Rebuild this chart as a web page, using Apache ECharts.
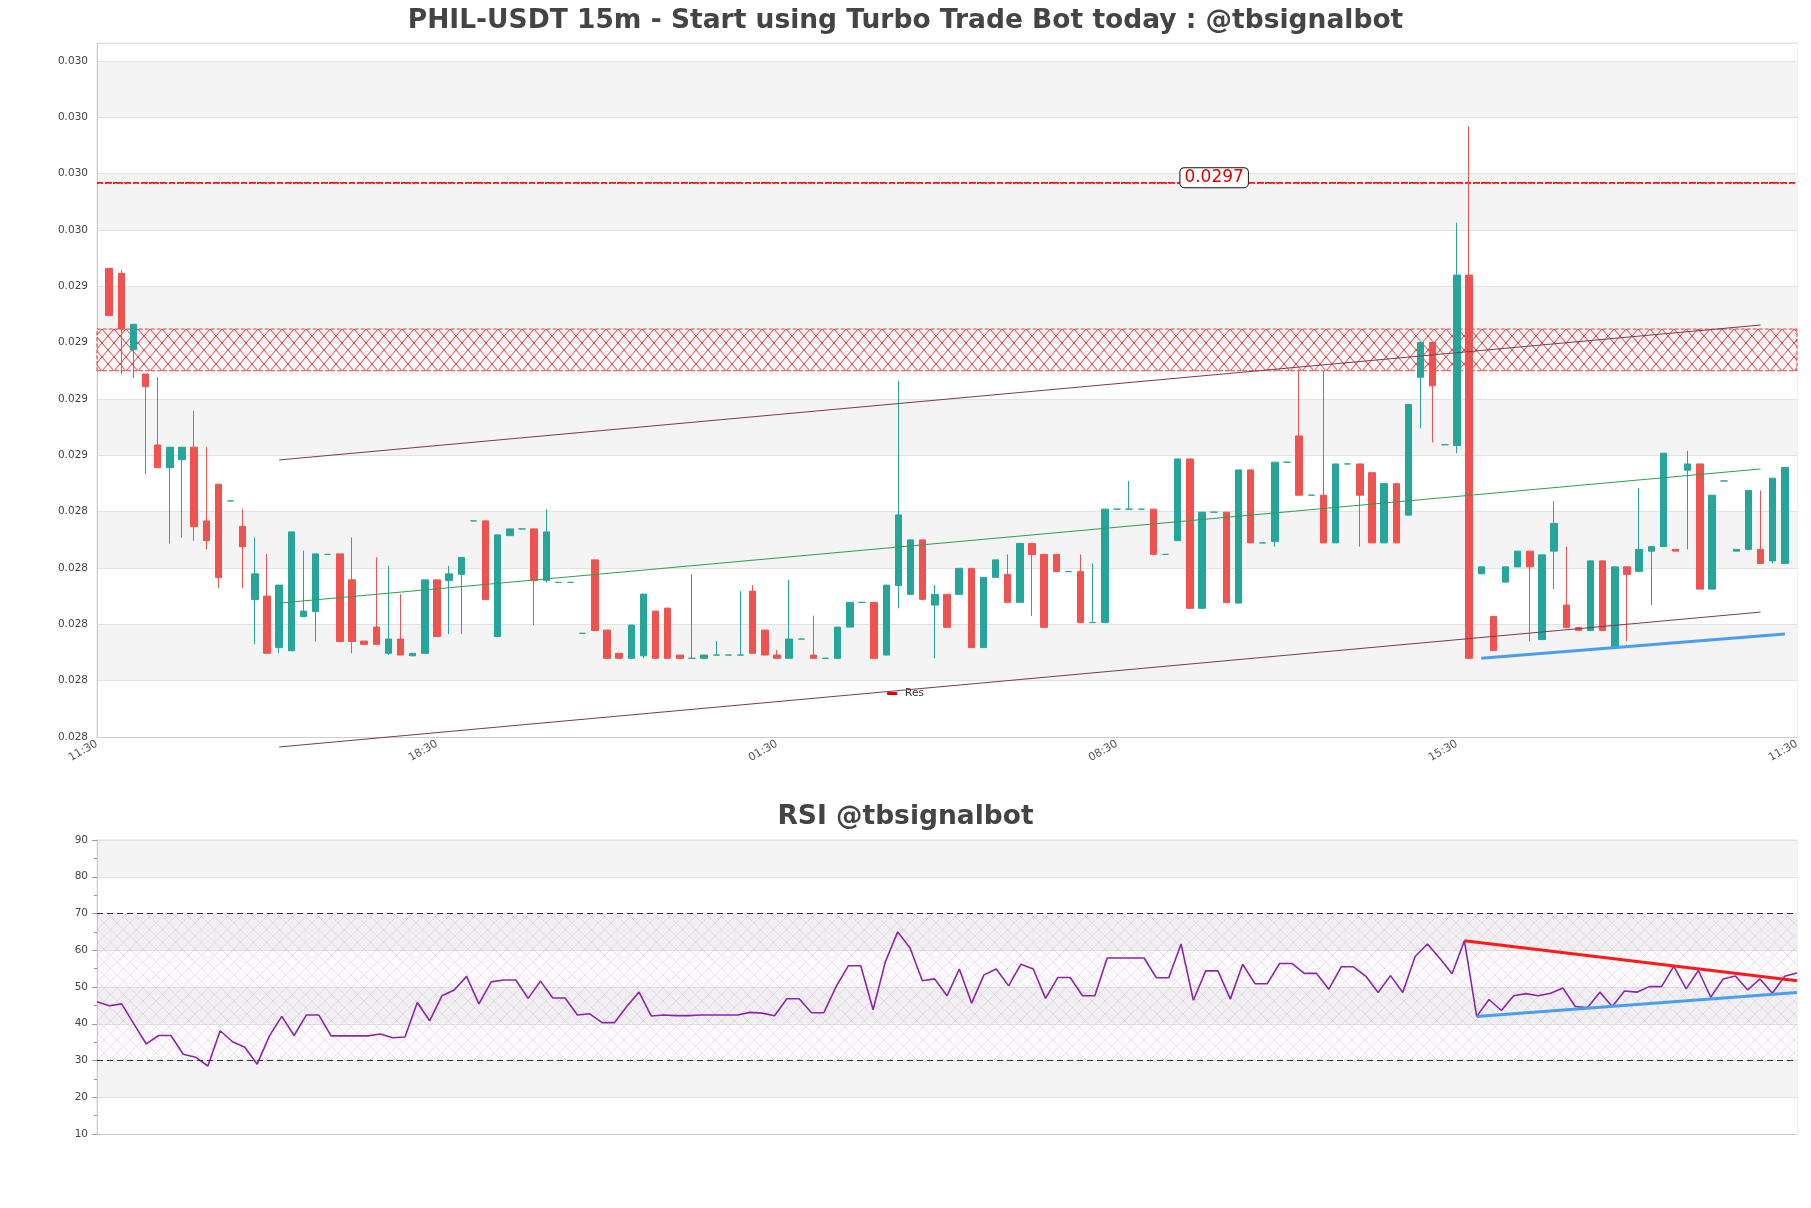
<!DOCTYPE html>
<html>
<head>
<meta charset="utf-8">
<script src="https://cdn.jsdelivr.net/npm/echarts@6/dist/echarts.min.js"></script>
<style>
html,body{margin:0;padding:0;background:#ffffff;}
#chart{width:1811px;height:1208px;}
</style>
</head>
<body>
<div id="chart"></div>
<script>
// ---------------- data ----------------
const xTickLabels = ['11:30', '18:30', '01:30', '08:30', '15:30', '11:30'];
const xTickEvery = 28;

const opens = [
0.029387,0.029367,0.029061,0.028964,0.028680,0.028589,0.028621,0.028671,0.028376,0.028523,
0.028456,0.028354,0.028061,0.028075,0.027869,0.027856,0.027993,0.028013,0.028242,0.028244,
0.028140,0.027895,0.027951,0.027846,0.027903,0.027836,0.027846,0.028140,0.028137,0.028162,
0.028376,0.028376,0.027913,0.028317,0.028344,0.028344,0.028137,0.028130,0.028130,0.027926,
0.028220,0.027939,0.027846,0.027826,0.027836,0.028015,0.028027,0.027839,0.027826,0.027826,
0.027839,0.027839,0.027839,0.028095,0.027939,0.027839,0.027826,0.027903,0.027839,0.027826,
0.027826,0.027951,0.028050,0.028050,0.027839,0.028117,0.028082,0.028300,0.028039,0.028082,
0.028082,0.028186,0.027869,0.028150,0.028162,0.028050,0.028286,0.028242,0.028242,0.028173,
0.028173,0.027969,0.027969,0.028423,0.028423,0.028423,0.028423,0.028242,0.028297,0.028624,
0.028026,0.028411,0.028411,0.028047,0.028580,0.028288,0.028294,0.028611,0.028716,0.028479,
0.028479,0.028288,0.028604,0.028604,0.028569,0.028288,0.028525,0.028399,0.028951,0.029090,
0.028681,0.028678,0.029360,0.028164,0.027993,0.028131,0.028192,0.028255,0.027901,0.028255,
0.028039,0.027949,0.027937,0.028216,0.027869,0.028192,0.028174,0.028255,0.028273,0.028262,
0.028579,0.028604,0.028103,0.028536,0.028255,0.028262,0.028262,0.028216,0.028206
];
const closes = [
0.029198,0.029144,0.029163,0.028913,0.028589,0.028671,0.028671,0.028353,0.028297,0.028149,
0.028456,0.028273,0.028164,0.027846,0.028119,0.028332,0.028015,0.028244,0.028242,0.027893,
0.027893,0.027882,0.027882,0.027903,0.027839,0.027846,0.028140,0.027913,0.028164,0.028230,
0.028376,0.028061,0.028320,0.028344,0.028344,0.028137,0.028332,0.028130,0.028130,0.027926,
0.027937,0.027826,0.027826,0.027959,0.028083,0.027826,0.027826,0.027826,0.027826,0.027839,
0.027839,0.027839,0.027839,0.027846,0.027839,0.027826,0.027903,0.027903,0.027826,0.027826,
0.027951,0.028050,0.028050,0.027826,0.028119,0.028400,0.028300,0.028062,0.028082,0.027950,
0.028186,0.027869,0.028150,0.028220,0.028050,0.028286,0.028242,0.027950,0.028173,0.028173,
0.027969,0.027969,0.028423,0.028423,0.028423,0.028423,0.028242,0.028242,0.028624,0.028026,
0.028411,0.028411,0.028049,0.028580,0.028288,0.028288,0.028611,0.028611,0.028479,0.028479,
0.028288,0.028604,0.028604,0.028479,0.028288,0.028525,0.028288,0.028842,0.029090,0.028917,
0.028681,0.029360,0.027826,0.028192,0.027857,0.028192,0.028255,0.028192,0.028240,0.028366,
0.027949,0.027937,0.028216,0.027937,0.028192,0.028162,0.028262,0.028273,0.028647,0.028255,
0.028604,0.028103,0.028479,0.028536,0.028262,0.028498,0.028206,0.028547,0.028590
];
const lows = [
0.029198,0.028963,0.028949,0.028564,0.028589,0.028285,0.028309,0.028297,0.028261,0.028106,
0.028456,0.028106,0.027882,0.027846,0.027846,0.027856,0.027993,0.027893,0.028242,0.027893,
0.027846,0.027882,0.027882,0.027839,0.027839,0.027836,0.027846,0.027913,0.027923,0.027923,
0.028376,0.028061,0.027913,0.028317,0.028344,0.027959,0.028129,0.028130,0.028130,0.027926,
0.027937,0.027826,0.027826,0.027826,0.027826,0.027826,0.027826,0.027826,0.027826,0.027826,
0.027839,0.027839,0.027839,0.027846,0.027839,0.027826,0.027826,0.027903,0.027826,0.027826,
0.027826,0.027951,0.028050,0.027826,0.027839,0.028026,0.028082,0.028062,0.027826,0.027950,
0.028082,0.027869,0.027869,0.028150,0.028050,0.028050,0.027995,0.027950,0.028173,0.028173,
0.027969,0.027969,0.027969,0.028423,0.028423,0.028423,0.028242,0.028242,0.028297,0.028026,
0.028026,0.028411,0.028049,0.028047,0.028288,0.028288,0.028273,0.028611,0.028479,0.028479,
0.028288,0.028288,0.028604,0.028273,0.028288,0.028288,0.028288,0.028399,0.028746,0.028690,
0.028681,0.028647,0.027826,0.028164,0.027857,0.028131,0.028192,0.027894,0.027901,0.028103,
0.027949,0.027937,0.027937,0.027937,0.027869,0.027894,0.028174,0.028039,0.028273,0.028255,
0.028262,0.028103,0.028103,0.028536,0.028255,0.028262,0.028206,0.028206,0.028206
];
const highs = [
0.029387,0.029380,0.029163,0.028964,0.028951,0.028671,0.028671,0.028817,0.028671,0.028523,
0.028456,0.028423,0.028310,0.028244,0.028119,0.028332,0.028257,0.028244,0.028242,0.028244,
0.028310,0.027895,0.028230,0.028196,0.028083,0.027846,0.028140,0.028140,0.028196,0.028230,
0.028376,0.028376,0.028320,0.028344,0.028344,0.028344,0.028423,0.028130,0.028130,0.027926,
0.028220,0.027939,0.027846,0.027959,0.028083,0.028015,0.028027,0.027839,0.028162,0.027839,
0.027895,0.027839,0.028095,0.028119,0.027939,0.027859,0.028140,0.027903,0.027997,0.027826,
0.027951,0.028050,0.028050,0.028050,0.028119,0.028937,0.028300,0.028300,0.028119,0.028082,
0.028186,0.028186,0.028150,0.028220,0.028242,0.028286,0.028286,0.028242,0.028242,0.028173,
0.028242,0.028206,0.028423,0.028423,0.028536,0.028423,0.028423,0.028242,0.028624,0.028624,
0.028411,0.028411,0.028411,0.028580,0.028580,0.028288,0.028611,0.028611,0.028983,0.028479,
0.028974,0.028604,0.028604,0.028604,0.028569,0.028525,0.028525,0.028842,0.029090,0.029090,
0.028681,0.029570,0.029956,0.028192,0.027993,0.028192,0.028255,0.028255,0.028240,0.028455,
0.028273,0.027949,0.028216,0.028216,0.028192,0.028192,0.028508,0.028273,0.028647,0.028262,
0.028657,0.028604,0.028479,0.028536,0.028262,0.028498,0.028498,0.028547,0.028590
];

const rsiValues = [
46.0,44.9,45.4,39.9,34.5,36.8,36.8,31.7,30.9,28.5,
38.1,35.1,33.6,29.0,36.7,42.0,36.8,42.4,42.4,36.7,
36.7,36.7,36.7,37.2,36.2,36.4,45.8,40.8,47.6,49.2,
52.9,45.4,51.4,51.9,51.9,46.9,51.6,47.0,47.0,42.4,
42.7,40.3,40.3,44.7,48.6,42.1,42.4,42.2,42.2,42.4,
42.4,42.4,42.4,43.1,42.9,42.2,46.8,46.8,43.0,43.0,
50.1,55.8,55.8,43.8,56.9,65.0,60.6,51.7,52.2,47.6,
54.9,45.6,53.3,54.9,50.3,56.2,54.9,46.9,52.6,52.6,
47.6,47.6,57.9,57.9,57.9,57.9,52.5,52.5,61.7,46.4,
54.4,54.4,46.7,56.2,50.9,50.9,56.4,56.4,53.7,53.7,
49.4,55.5,55.5,52.9,48.5,53.1,48.5,58.3,61.7,57.8,
53.6,62.6,42.0,46.6,43.6,47.6,48.2,47.6,48.3,49.7,
44.7,44.4,48.6,44.7,48.9,48.6,50.1,50.1,55.6,49.5,
54.5,47.2,52.2,53.0,49.2,52.2,48.3,52.9,53.8
];

// price axis scale (ticks start at min)
const priceStep = 0.0002255;
const priceMin = 0.027511;   // 122 * priceStep
const priceMax = 0.030289;

// levels & trend lines (category index, price)
const resLevel = 0.029730;
const resLabelIndex = 92;
const resZone = [0.028977, 0.029144];
const channelUpper = [[15, 0.028620], [137, 0.029160]];
const channelMid   = [[15, 0.028047], [137, 0.028584]];
const channelLower = [[15, 0.027471], [137, 0.028011]];
const supportLine  = [[114, 0.027826], [139, 0.027923]];

// RSI levels & trend lines (rsi index, value)
const rsiUpperLevel = 70;
const rsiLowerLevel = 30;
const rsiResTrend = [[111, 62.6], [138, 51.7]];
const rsiSupTrend = [[112, 42.0], [138, 48.5]];

// ---------------- build ----------------
const nCandles = opens.length;
const nCats = nCandles + 2;
const categories = [];
for (let i = 0; i < nCats; i++) {
  categories.push(i % xTickEvery === 0 ? (xTickLabels[i / xTickEvery] || '') : '');
}
const candleData = [['-', '-', '-', '-']];
for (let i = 0; i < nCandles; i++) candleData.push([opens[i], closes[i], lows[i], highs[i]]);
candleData.push(['-', '-', '-', '-']);
const rsiCats = rsiValues.map((_, i) => String(i));

function hatch(w, h, color, lw, bg) {
  const c = document.createElement('canvas');
  c.width = w; c.height = h;
  const g = c.getContext('2d');
  if (bg) { g.fillStyle = bg; g.fillRect(0, 0, w, h); }
  g.strokeStyle = color; g.lineWidth = lw;
  g.beginPath();
  g.moveTo(0, 0); g.lineTo(w, h);
  g.moveTo(w, 0); g.lineTo(0, h);
  g.stroke();
  return c;
}
const redHatch = hatch(12, 14, 'rgba(225,30,30,0.95)', 0.9, 'rgba(255,235,235,0.35)');
const purpleHatch = hatch(13, 13, 'rgba(150,120,170,0.22)', 0.8, 'rgba(200,170,220,0.06)');

const FONT = 'DejaVu Sans';
const UP = '#26a69a', DOWN = '#ef5350';

const chart = echarts.init(document.getElementById('chart'), null, {renderer: 'canvas'});
chart.setOption({
  animation: false,
  backgroundColor: '#ffffff',
  textStyle: {fontFamily: FONT},
  title: [
    {text: 'PHIL-USDT 15m - Start using Turbo Trade Bot today : @tbsignalbot', left: 'center', top: 3,
     textStyle: {fontFamily: FONT, fontSize: 26.5, fontWeight: 'bold', color: '#444'}},
    {text: 'RSI @tbsignalbot', left: 'center', top: 799,
     textStyle: {fontFamily: FONT, fontSize: 26.5, fontWeight: 'bold', color: '#444'}}
  ],
  legend: {
    data: ['Res'], left: 'center', top: 686, icon: 'rect', itemWidth: 10, itemHeight: 3,
    backgroundColor: '#ffffff', padding: [2, 4], selectedMode: false,
    textStyle: {fontFamily: FONT, fontSize: 10.5, color: '#333', padding: [0, 0, 0, 3]}
  },
  grid: [
    {left: 97, top: 43, width: 1700, height: 694, show: true, borderColor: '#e2e2e2', borderWidth: 1},
    {left: 97, top: 840, width: 1700, height: 294, show: true, borderColor: '#e2e2e2', borderWidth: 1}
  ],
  xAxis: [
    {type: 'category', gridIndex: 0, data: categories, boundaryGap: false,
     axisLine: {lineStyle: {color: '#cccccc'}}, axisTick: {show: false},
     axisLabel: {interval: xTickEvery - 1, rotate: 30, fontSize: 11, color: '#555', margin: 6, fontFamily: FONT},
     splitLine: {show: false}},
    {type: 'category', gridIndex: 1, data: rsiCats, boundaryGap: false,
     axisLine: {lineStyle: {color: '#cccccc'}}, axisTick: {show: false},
     axisLabel: {show: false}, splitLine: {show: false}}
  ],
  yAxis: [
    {type: 'value', gridIndex: 0, min: priceMin, max: priceMax, interval: priceStep, scale: true,
     axisLine: {show: true, lineStyle: {color: '#cccccc'}}, axisTick: {show: false},
     axisLabel: {formatter: v => v.toFixed(3), fontSize: 10.5, color: '#444', showMaxLabel: false, margin: 9, fontFamily: FONT},
     splitLine: {show: true, lineStyle: {color: '#e2e2e2'}},
     splitArea: {show: true, areaStyle: {color: ['#ffffff', '#f4f4f4']}}},
    {type: 'value', gridIndex: 1, min: 10, max: 90, interval: 10,
     axisLine: {show: true, lineStyle: {color: '#cccccc'}},
     axisTick: {show: true, length: 5, lineStyle: {color: '#999'}},
     minorTick: {show: true, splitNumber: 2, length: 3, lineStyle: {color: '#999'}},
     axisLabel: {fontSize: 10.5, color: '#444', margin: 9, fontFamily: FONT},
     splitLine: {show: true, lineStyle: {color: '#e2e2e2'}},
     splitArea: {show: true, areaStyle: {color: ['#ffffff', '#f4f4f4']}}}
  ],
  series: [
    {
      name: 'Res', type: 'line', xAxisIndex: 0, yAxisIndex: 0, color: '#e00000',
      data: [[0, resLevel], [nCats - 1, resLevel]], showSymbol: false, symbol: 'none', silent: true, z: 2,
      lineStyle: {color: '#e00000', width: 1.5, type: [6, 3]},
      markArea: {
        silent: true,
        itemStyle: {color: {image: redHatch, repeat: 'repeat'}, borderColor: '#e53935', borderWidth: 1, borderType: 'dashed'},
        data: [[{yAxis: resZone[0]}, {yAxis: resZone[1]}]]
      },
      markLine: {
        silent: true, symbol: 'none', precision: 6, label: {show: false},
        lineStyle: {color: '#ff2020', width: 2, type: 'dotted'},
        data: [{yAxis: resLevel}]
      },
      markPoint: {
        silent: true, symbol: 'rect', symbolSize: 0,
        data: [{coord: [resLabelIndex, resLevel], value: resLevel}],
        label: {show: true, position: 'inside', offset: [0, -5], formatter: p => p.value.toFixed(4),
          fontFamily: FONT, fontSize: 17, color: '#e00000', backgroundColor: '#ffffff',
          borderColor: '#111', borderWidth: 1, borderRadius: 4, padding: [1, 4], lineHeight: 17}
      }
    },
    {
      name: 'PHIL-USDT', type: 'candlestick', xAxisIndex: 0, yAxisIndex: 0, data: candleData, barWidth: 7, z: 3,
      silent: true,
      itemStyle: {color: UP, color0: DOWN, borderColor: UP, borderColor0: DOWN, borderColorDoji: UP, borderWidth: 1}
    },
    {name: 'ChUp', type: 'line', xAxisIndex: 0, yAxisIndex: 0, data: channelUpper, symbol: 'none', silent: true, z: 4,
     lineStyle: {color: '#7d3a52', width: 1}},
    {name: 'ChMid', type: 'line', xAxisIndex: 0, yAxisIndex: 0, data: channelMid, symbol: 'none', silent: true, z: 4,
     lineStyle: {color: '#2e9e4f', width: 1}},
    {name: 'ChLow', type: 'line', xAxisIndex: 0, yAxisIndex: 0, data: channelLower, symbol: 'none', silent: true, z: 4,
     clip: false, lineStyle: {color: '#7d3a52', width: 1}},
    {name: 'Sup', type: 'line', xAxisIndex: 0, yAxisIndex: 0, data: supportLine, symbol: 'none', silent: true, z: 4,
     lineStyle: {color: '#4a9ef0', width: 3}},
    {
      name: 'RSI', type: 'line', xAxisIndex: 1, yAxisIndex: 1, data: rsiValues, symbol: 'none', silent: true, z: 3,
      lineStyle: {color: '#8e24aa', width: 1.6},
      markArea: {silent: true, itemStyle: {color: {image: purpleHatch, repeat: 'repeat'}},
        data: [[{yAxis: rsiLowerLevel}, {yAxis: rsiUpperLevel}]]},
      markLine: {silent: true, symbol: 'none', label: {show: false},
        lineStyle: {color: '#333', width: 1.2, type: [6, 4]},
        data: [{yAxis: rsiUpperLevel}, {yAxis: rsiLowerLevel}]}
    },
    {name: 'RSIRes', type: 'line', xAxisIndex: 1, yAxisIndex: 1, data: rsiResTrend, symbol: 'none', silent: true, z: 4,
     lineStyle: {color: '#ff1a1a', width: 3}},
    {name: 'RSISup', type: 'line', xAxisIndex: 1, yAxisIndex: 1, data: rsiSupTrend, symbol: 'none', silent: true, z: 4,
     lineStyle: {color: '#4a9ef0', width: 3}}
  ]
});
</script>
</body>
</html>
